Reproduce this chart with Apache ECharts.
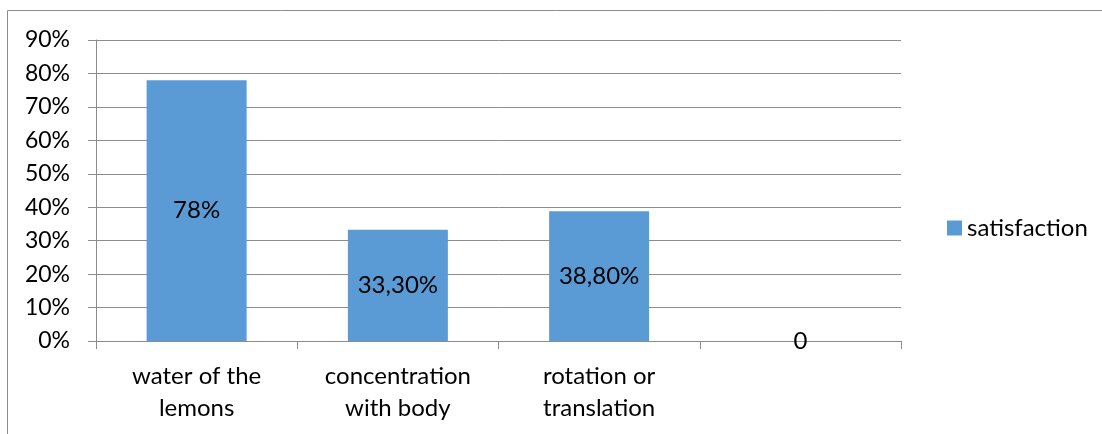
<!DOCTYPE html>
<html>
<head>
<meta charset="utf-8">
<style>
  html, body { margin: 0; padding: 0; background: #fff; }
  #chart { width: 1102px; height: 434px; }
</style>
<script src="https://cdn.jsdelivr.net/npm/echarts@6/dist/echarts.min.js"></script>
</head>
<body>
<div id="chart"></div>
<script>
// Satisfaction per exercise
const categories = ['water of the\nlemons', 'concentration\nwith body', 'rotation or\ntranslation', ''];
const satisfaction = [0.78, 0.333, 0.388, 0];
const valueLabels = ['78%', '33,30%', '38,80%', '0'];
const yTicks = [0, 0.1, 0.2, 0.3, 0.4, 0.5, 0.6, 0.7, 0.8, 0.9];

const FONT = 'Lato';
const GRAY = '#8c8c8c';

const chart = echarts.init(document.getElementById('chart'));
chart.setOption({
  animation: false,
  backgroundColor: '#fff',
  textStyle: { fontFamily: FONT },
  graphic: [{
    type: 'rect',
    shape: { x: 7.5, y: 10.5, width: 1200, height: 500 },
    style: { fill: 'none', stroke: GRAY, lineWidth: 1 },
    silent: true
  }],
  legend: {
    data: ['satisfaction'],
    left: 942,
    top: 211,
    itemWidth: 15,
    itemHeight: 15,
    itemGap: 6,
    icon: 'rect',
    textStyle: { fontFamily: FONT, fontSize: 24, color: '#000' }
  },
  grid: { left: 96, top: 40, right: 201, bottom: 93, containLabel: false },
  xAxis: {
    type: 'category',
    data: categories,
    axisLine: { lineStyle: { color: GRAY } },
    axisTick: { show: true, length: 8, alignWithLabel: false, lineStyle: { color: GRAY } },
    axisLabel: { fontFamily: FONT, fontSize: 24, color: '#000', margin: 19, lineHeight: 32, interval: 0 }
  },
  yAxis: {
    type: 'value',
    min: yTicks[0],
    max: yTicks[yTicks.length - 1],
    interval: 0.1,
    axisLine: { show: true, lineStyle: { color: GRAY } },
    axisTick: { show: true, length: 8, lineStyle: { color: GRAY } },
    splitLine: { show: true, lineStyle: { color: GRAY } },
    axisLabel: {
      fontFamily: FONT, fontSize: 23, color: '#000', margin: 26,
      formatter: v => Math.round(v * 100) + '%'
    }
  },
  series: [{
    name: 'satisfaction',
    type: 'bar',
    data: satisfaction,
    barWidth: 100,
    itemStyle: { color: '#5b9bd5' },
    label: {
      show: true,
      position: 'inside',
      fontFamily: FONT,
      fontSize: 24,
      color: '#000',
      formatter: p => valueLabels[p.dataIndex]
    }
  }]
});
</script>
</body>
</html>
